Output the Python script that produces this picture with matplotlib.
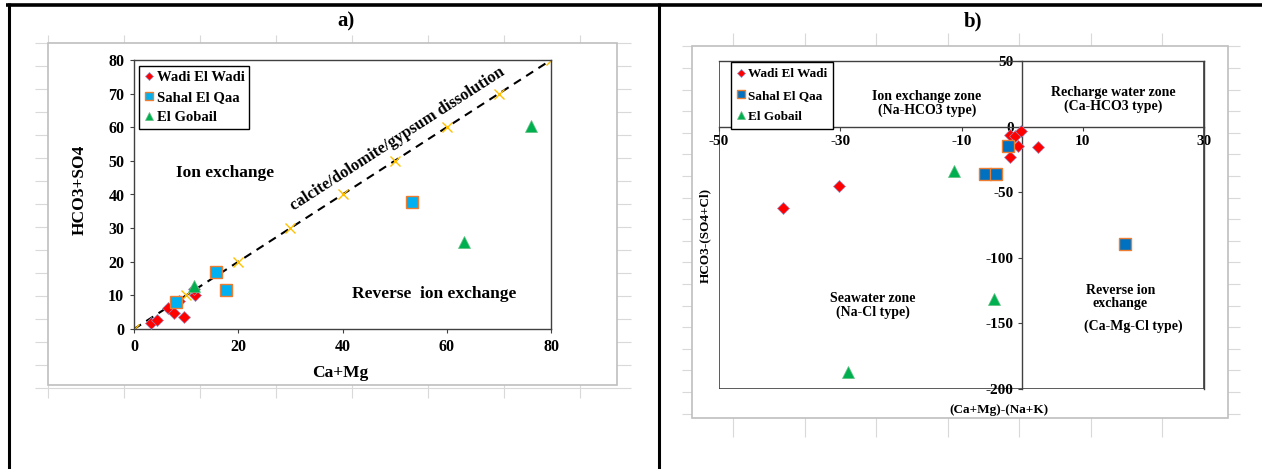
import matplotlib
matplotlib.use("Agg")
import matplotlib.pyplot as plt
from matplotlib.patches import Rectangle

plt.rcParams["font.family"] = ["Liberation Serif", "DejaVu Serif"]
plt.rcParams["font.weight"] = "bold"
plt.rcParams["axes.unicode_minus"] = False

W, H = 1262, 469

# --- panel a: HCO3+SO4 vs Ca+Mg
wadi_a_x = [3.2, 4.5, 6.5, 7.6, 9.5, 8.6, 11.7, 11.6]
wadi_a_y = [1.7, 2.7, 6.2, 4.9, 3.7, 8.2, 10.1, 12.0]
sahal_a_x = [8.0, 15.7, 17.6, 53.4]
sahal_a_y = [8.1, 17.0, 11.6, 37.7]
gobail_a_x = [11.5, 63.4, 76.1]
gobail_a_y = [12.8, 26.0, 60.4]
line_x = [0, 10, 20, 30, 40, 50, 60, 70, 80]
line_y = [0, 10, 20, 30, 40, 50, 60, 70, 80]
xticks_a = [0, 20, 40, 60, 80]
yticks_a = [0, 10, 20, 30, 40, 50, 60, 70, 80]

# --- panel b: HCO3-(SO4+Cl) vs (Ca+Mg)-(Na+K)
wadi_b_x = [-39.5, -30.2, -2.0, -1.2, -0.2, -0.7, -2.0, 2.6]
wadi_b_y = [-62.3, -45.3, -6.4, -6.9, -3.4, -14.6, -22.9, -15.5]
sahal_b_x = [-2.3, -6.1, -4.3, 17.0]
sahal_b_y = [-14.6, -36.1, -36.1, -89.7]
gobail_b_x = [-11.2, -4.7, -28.8]
gobail_b_y = [-33.8, -131.6, -186.8]
xticks_b = [-50, -30, -10, 10, 30]
yticks_b = [50, 0, -50, -100, -150, -200]

labels = ["Wadi El Wadi", "Sahal El Qaa", "El Gobail"]


def rect(l, t, r, b):
    # pixel box -> figure fraction
    return [l / W, 1 - b / H, (r - l) / W, (b - t) / H]


fig = plt.figure(figsize=(W / 100, H / 100), dpi=100)
fig.patch.set_facecolor("white")

# background: sheet grid, chart areas, cell borders
bg = fig.add_axes([0, 0, 1, 1], zorder=0)
bg.set_xlim(0, W)
bg.set_ylim(H, 0)
bg.axis("off")

grid_c = "#d9d9d9"
bg.vlines([47.5 + 76 * k for k in range(8)], 35, 398, color=grid_c, lw=0.8, zorder=0)
bg.hlines([43 + 23 * k for k in range(16)], 35, 631, color=grid_c, lw=0.8, zorder=0)
bg.vlines([733 + 71.5 * k for k in range(7)], 33, 437, color=grid_c, lw=0.8, zorder=0)
bg.hlines([46.5 + 21.6 * k for k in range(18)], 682, 1240, color=grid_c, lw=0.8, zorder=0)

bg.add_patch(Rectangle((48, 43), 569, 342, facecolor="white", edgecolor="#bfbfbf",
                       lw=1.2, zorder=1))
bg.add_patch(Rectangle((692, 46), 536, 372, facecolor="white", edgecolor="#bfbfbf",
                       lw=1.2, zorder=1))

bg.plot([6, W], [5, 5], color="black", lw=2.6, solid_capstyle="butt", zorder=3)
bg.plot([8.5, 8.5], [3.5, H], color="black", lw=2.2, solid_capstyle="butt", zorder=3)
bg.plot([659, 659], [3.5, H], color="black", lw=2.2, solid_capstyle="butt", zorder=3)

bg.text(346, 21, "a)", fontsize=15, ha="center", va="center")
bg.text(973, 21, "b)", fontsize=15, ha="center", va="center")

bg.text(340, 373, "Ca+Mg", fontsize=12.5, ha="center", va="center", zorder=4)
bg.text(80, 190, "HCO3+SO4", fontsize=12.5, ha="center", va="center", rotation=90, zorder=4)
bg.text(999, 410, "(Ca+Mg)-(Na+K)", fontsize=9.5, ha="center", va="center", zorder=4)
bg.text(705, 235, "HCO3-(SO4+Cl)", fontsize=9.5, ha="center", va="center", rotation=90,
        zorder=4)

spine_c = "#404040"

# ---------------- panel a
ax = fig.add_axes(rect(134, 60, 551, 329), zorder=2)
ax.plot(line_x, line_y, color="black", ls="--", dashes=(4, 3), lw=1.5, zorder=2)
ax.plot(line_x, line_y, ls="none", marker="x", color="#ffc000", ms=7, mew=1, zorder=2)
h1, = ax.plot(wadi_a_x, wadi_a_y, ls="none", marker="D", ms=6, color="#ff0000",
              mec="#9a8fc0", mew=0.5, zorder=3)
h2, = ax.plot(sahal_a_x, sahal_a_y, ls="none", marker="s", ms=8.5, color="#00b0f0",
              mec="#ed7d31", mew=1, zorder=3)
h3, = ax.plot(gobail_a_x, gobail_a_y, ls="none", marker="^", ms=8, color="#00b050",
              mec="#5fbf7f", mew=0.5, zorder=3)
ax.set_xlim(0, 80)
ax.set_ylim(0, 80)
ax.set_xticks(xticks_a)
ax.set_yticks(yticks_a)
ax.tick_params(labelsize=11.5, length=3, color=spine_c, pad=4)
for s in ax.spines.values():
    s.set_color(spine_c)
    s.set_linewidth(1)

ax.text(17.5, 46.5, "Ion exchange", fontsize=12.5, ha="center", va="center")
ax.text(57.6, 10.3, "Reverse  ion exchange", fontsize=12.5, ha="center", va="center")
ax.text(50.6, 56.6, "calcite/dolomite/gypsum dissolution", fontsize=12,
        ha="center", va="center", rotation=45, rotation_mode="anchor",
        transform_rotates_text=True)

leg = ax.legend([h1, h2, h3], labels, loc="upper left", bbox_to_anchor=(0.012, 0.978),
                borderaxespad=0, fancybox=False, edgecolor="black", framealpha=1,
                fontsize=10.5, handlelength=0.7, handletextpad=0.15, borderpad=0.35,
                labelspacing=0.45, markerscale=0.75)
leg.get_frame().set_linewidth(1)

# ---------------- panel b
bx = fig.add_axes(rect(719, 61, 1204, 389), zorder=2)
g1, = bx.plot(wadi_b_x, wadi_b_y, ls="none", marker="D", ms=6, color="#ff0000",
              mec="#9a8fc0", mew=0.5, zorder=3)
g2, = bx.plot(sahal_b_x, sahal_b_y, ls="none", marker="s", ms=8, color="#0070c0",
              mec="#ed7d31", mew=1, zorder=3)
g3, = bx.plot(gobail_b_x, gobail_b_y, ls="none", marker="^", ms=8, color="#00b050",
              mec="#5fbf7f", mew=0.5, zorder=3)
bx.set_xlim(-50, 30)
bx.set_ylim(-200, 50)
bx.spines["left"].set_position(("data", 0))
bx.spines["bottom"].set_position(("data", 0))
for s in bx.spines.values():
    s.set_color(spine_c)
    s.set_linewidth(1)
bx.add_patch(Rectangle((0, 0), 1, 1, transform=bx.transAxes, fill=False,
                       edgecolor=spine_c, lw=1.2, zorder=1))
bx.set_xticks(xticks_b)
bx.set_yticks(yticks_b)
bx.tick_params(labelsize=11, length=3, color=spine_c, pad=3)

zone_kw = dict(fontsize=10, ha="center", va="center", linespacing=1.05)
bx.text(-15.7, 17.6, "Ion exchange zone\n(Na-HCO3 type)", **zone_kw)
bx.text(15.0, 20.3, "Recharge water zone\n(Ca-HCO3 type)", **zone_kw)
bx.text(-24.6, -136.6, "Seawater zone\n(Na-Cl type)", **zone_kw)
bx.text(16.2, -129.8, "Reverse ion\nexchange", **zone_kw)
bx.text(18.3, -152.5, "(Ca-Mg-Cl type)", **zone_kw)

leg2 = bx.legend([g1, g2, g3], labels, loc="upper left", bbox_to_anchor=(0.025, 0.997),
                 borderaxespad=0, fancybox=False, edgecolor="black", framealpha=1,
                 fontsize=9.5, handlelength=0.6, handletextpad=0.2, borderpad=0.45,
                 labelspacing=0.7, markerscale=0.65)
leg2.get_frame().set_linewidth(1)

fig.savefig("out.png", dpi=100, facecolor="white")
